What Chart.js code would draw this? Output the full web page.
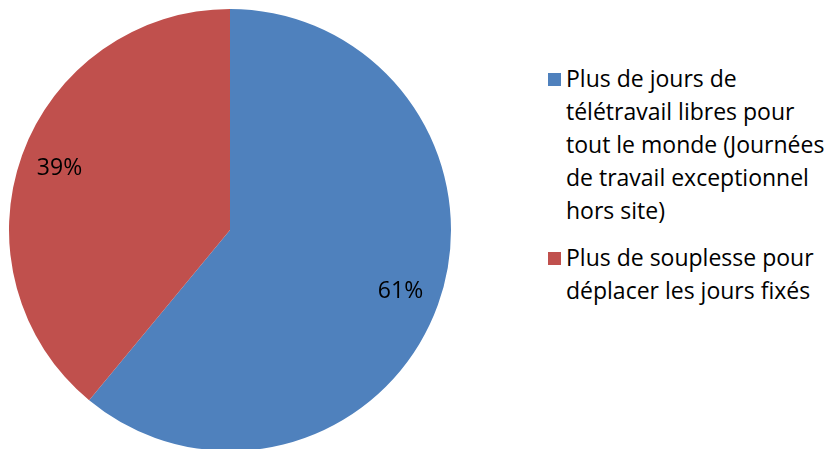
<!DOCTYPE html>
<html>
<head>
<meta charset="utf-8">
<script src="https://cdn.jsdelivr.net/npm/chart.js@4"></script>
<style>
  html, body { margin: 0; padding: 0; background: #fff; overflow: hidden; }
  #wrap { position: absolute; left: 0; top: 0; width: 460px; height: 460px; }
  #legend { position: absolute; left: 546px; top: 62px; width: 290px; white-space: nowrap;
            font-family: "Open Sans", sans-serif; font-size: 23px; line-height: 33px; color: #000; }
  .item { position: relative; padding-left: 20px; margin-bottom: 14px; }
  .box { position: absolute; left: 2px; top: 11px; width: 13px; height: 13px; }
</style>
</head>
<body>
<div id="wrap"><canvas id="pie"></canvas></div>
<div id="legend"></div>
<script>
// Chart data (legend lines kept as in the original)
const labels = [["Plus de jours de", "télétravail libres pour", "tout le monde (Journées", "de travail exceptionnel", "hors site)"],
                ["Plus de souplesse pour", "déplacer les jours fixés"]];
const values = [61, 39];
const colors = ["#4F81BD", "#C0504D"];

const pctLabels = { //draw percentage text inside each slice
  id: "pctLabels",
  afterDatasetsDraw(chart) {
    const ctx = chart.ctx;
    const meta = chart.getDatasetMeta(0);
    const total = values.reduce((a, b) => a + b, 0);
    ctx.save();
    ctx.font = '23px "Open Sans", sans-serif';
    ctx.fillStyle = "#000";
    ctx.textAlign = "center";
    ctx.textBaseline = "middle";
    meta.data.forEach((arc, i) => {
      const p = arc.getProps(["x", "y", "startAngle", "endAngle", "outerRadius"], true);
      const mid = (p.startAngle + p.endAngle) / 2;
      const r = p.outerRadius * 0.82;
      ctx.fillText(Math.round(values[i] / total * 100) + "%", p.x + Math.cos(mid) * r, p.y + Math.sin(mid) * r);
    });
    ctx.restore();
  }
};

new Chart(document.getElementById("pie"), {
  type: "pie",
  data: {
    labels: labels.map(l => l.join(" ")),
    datasets: [{ data: values, backgroundColor: colors, borderWidth: 0 }]
  },
  options: {
    responsive: true,
    maintainAspectRatio: false,
    animation: false,
    layout: { padding: 9 },
    plugins: { legend: { display: false }, tooltip: { enabled: false } }
  },
  plugins: [pctLabels]
});

//HTML legend
const legend = document.getElementById("legend");
labels.forEach((lines, i) => {
  const d = document.createElement("div");
  d.className = "item";
  d.innerHTML = '<span class="box" style="background:' + colors[i] + '"></span>' + lines.join("<br>");
  legend.appendChild(d);
});
</script>
</body>
</html>
